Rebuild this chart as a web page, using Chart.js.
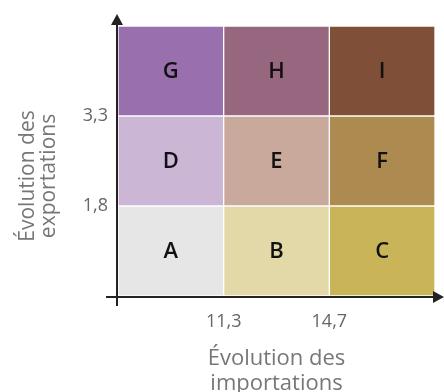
<!DOCTYPE html>
<html>
<head>
<meta charset="utf-8">
<script src="https://cdn.jsdelivr.net/npm/chart.js@4.4.0/dist/chart.umd.min.js"></script>
<style>
  html, body { margin: 0; padding: 0; background: #fff; }
  #wrap { width: 444px; height: 392px; }
</style>
</head>
<body>
<div id="wrap"><canvas id="grille"></canvas></div>
<script>
// centres des colonnes (importations) et hauteur de chaque ligne (exportations)
const colonnes = [0.5, 1.5, 2.5]
const hauteurLigne = [1, 1, 1]
const lettres = [
  ['A', 'B', 'C'],
  ['D', 'E', 'F'],
  ['G', 'H', 'I']
]
const couleurs = [
  ['#e6e6e6', '#e3d9a8', '#c9b458'],
  ['#cbb6d6', '#c8a99c', '#ad8b50'],
  ['#9a6fae', '#96677e', '#7f4f37']
]
const ticksX = [1, 2]
const labelsX = ['11,3', '14,7']
const ticksY = [1, 2]
const labelsY = ['1,8', '3,3']

const police = '"Open Sans", sans-serif'

const datasets = lettres.map((ligne, r) => ({
  label: 'ligne ' + (r + 1),
  data: colonnes.map(x => ({ x: x, y: hauteurLigne[r] })),
  backgroundColor: couleurs[r],
  borderColor: 'rgba(255,255,255,0.55)',
  borderWidth: 1,
  borderSkipped: false,
  barPercentage: 1,
  categoryPercentage: 1
}))

// lettres au centre des cases
const lettresPlugin = {
  id: 'lettres',
  afterDatasetsDraw(chart) {
    const ctx = chart.ctx
    ctx.save()
    ctx.fillStyle = '#111'
    ctx.font = '600 22px "Open Sans", sans-serif'
    ctx.textAlign = 'center'
    ctx.textBaseline = 'middle'
    chart.data.datasets.forEach((ds, di) => {
      chart.getDatasetMeta(di).data.forEach((el, i) => {
        ctx.fillText(lettres[di][i], el.x, (el.y + el.base) / 2 + 1)
      })
    })
    ctx.restore()
  }
}

// axes avec fleches + titre vertical
const axesPlugin = {
  id: 'axes',
  afterDraw(chart) {
    const ctx = chart.ctx
    const a = chart.chartArea
    const x0 = a.left - 1
    const y0 = a.bottom + 1
    ctx.save()
    ctx.strokeStyle = '#222'
    ctx.fillStyle = '#222'
    ctx.lineWidth = 2
    ctx.beginPath()
    ctx.moveTo(x0, y0 + 9)
    ctx.lineTo(x0, a.top - 6)
    ctx.moveTo(x0 - 11, y0)
    ctx.lineTo(a.right + 2, y0)
    ctx.stroke()
    ctx.beginPath()
    ctx.moveTo(x0, a.top - 12)
    ctx.lineTo(x0 - 6, a.top - 1)
    ctx.lineTo(x0 + 6, a.top - 1)
    ctx.closePath()
    ctx.fill()
    ctx.beginPath()
    ctx.moveTo(a.right + 9, y0)
    ctx.lineTo(a.right - 2, y0 - 6)
    ctx.lineTo(a.right - 2, y0 + 6)
    ctx.closePath()
    ctx.fill()

    ctx.translate(38, 176)
    ctx.rotate(-Math.PI / 2)
    ctx.fillStyle = '#777'
    ctx.font = '21px ' + police
    ctx.textAlign = 'center'
    ctx.textBaseline = 'middle'
    ctx.fillText('Évolution des', 0, -10)
    ctx.fillText('exportations', 0, 11)
    ctx.restore()
  }
}

new Chart(document.getElementById('grille'), {
  type: 'bar',
  data: { datasets: datasets },
  options: {
    responsive: true,
    maintainAspectRatio: false,
    animation: false,
    layout: {
      padding: { top: 26, right: 9, left: 0, bottom: 0 }
    },
    plugins: {
      legend: { display: false },
      tooltip: { enabled: false }
    },
    scales: {
      x: {
        type: 'linear',
        stacked: true,
        offset: false,
        min: 0,
        max: 3,
        grid: { display: false, drawTicks: false },
        border: { display: false },
        afterBuildTicks: s => { s.ticks = ticksX.map(v => ({ value: v })) },
        afterFit: s => { s.height = 96 },
        ticks: {
          padding: 15,
          color: '#666',
          font: { family: police, size: 18 },
          maxRotation: 0,
          callback: v => labelsX[ticksX.indexOf(v)]
        },
        title: {
          display: true,
          text: ['Évolution des', 'importations'],
          color: '#777',
          font: { family: police, size: 22, lineHeight: 1.14 },
          padding: { top: 0, bottom: -4 }
        }
      },
      y: {
        stacked: true,
        min: 0,
        max: 3,
        grid: { display: false, drawTicks: false },
        border: { display: false },
        afterBuildTicks: s => { s.ticks = ticksY.map(v => ({ value: v })) },
        afterFit: s => { s.width = 118 },
        ticks: {
          padding: 10,
          color: '#666',
          font: { family: police, size: 18 },
          callback: v => labelsY[ticksY.indexOf(v)]
        }
      }
    }
  },
  plugins: [lettresPlugin, axesPlugin]
})
</script>
</body>
</html>
